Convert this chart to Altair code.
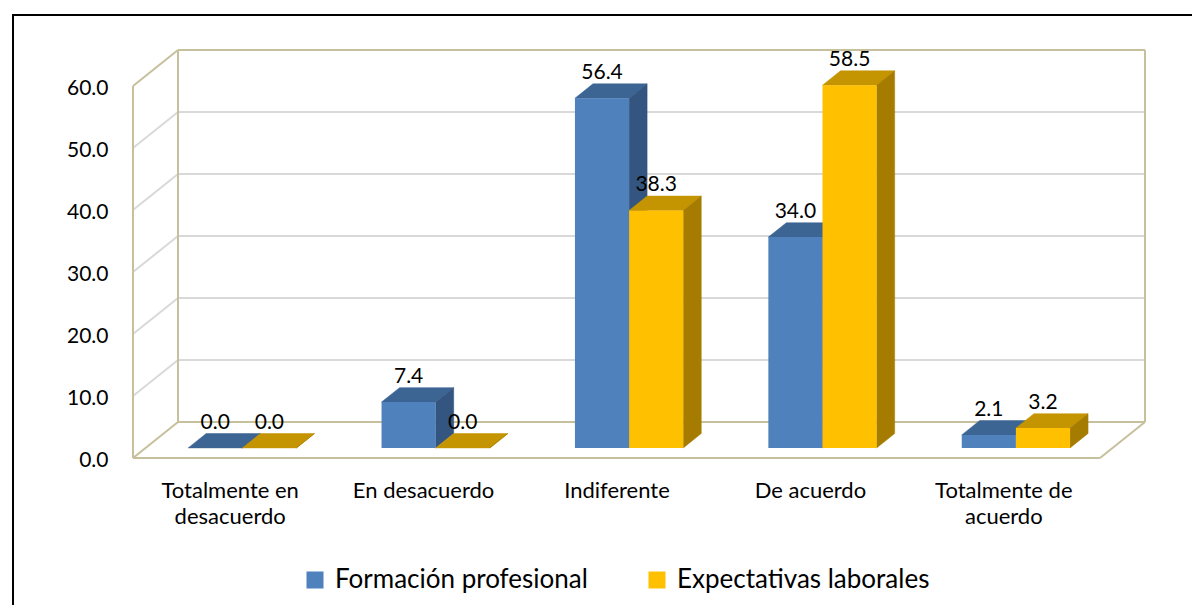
import json
import textwrap
import altair as alt
import pandas as pd

# ---------------- data ----------------
categories = ["Totalmente en desacuerdo", "En desacuerdo", "Indiferente",
              "De acuerdo", "Totalmente de acuerdo"]
series = ["Formación profesional", "Expectativas laborales"]
formacion = [0.0, 7.4, 56.4, 34.0, 2.1]
expectativas = [0.0, 0.0, 38.3, 58.5, 3.2]
y_ticks = [0, 10, 20, 30, 40, 50, 60]

front_colors = ["#4F81BD", "#FFC000"]
top_colors = ["#3D6594", "#C49500"]
side_colors = ["#33557F", "#A67C00"]
grid_color = "#D9D9D9"
wall_color = "#C7C09D"
FONT = "Lato"

# ---------------- geometry (pseudo 3-D) ----------------
PLOT_W, PLOT_H = 967, 372
N = len(categories)
YMAX = 60
DX = 45 / (PLOT_W / N)      # depth shift, in category units
DY = 36 / (PLOT_H / YMAX)   # depth shift, in value units
F = 0.28                    # depth of the bars' front face
T = 0.40                    # bar thickness in depth
BW = 0.28                   # bar width (category units)
fx, fy = F * DX, F * DY
tx, ty = T * DX, T * DY

values = [formacion, expectativas]
front_rows, top_rows, side_rows, label_rows = [], [], [], []
for k, (s, vals) in enumerate(zip(series, values)):
    for i, (cat, v) in enumerate(zip(categories, vals)):
        c = i + 0.5
        x0 = c - BW + k * BW
        x1 = x0 + BW
        bid = f"b{k}_{i}"
        front_rows.append(dict(serie=s, k=k, x=x0 + fx, x2=x1 + fx, y=fy, y2=v + fy))
        top_rows.append(dict(bar=bid, k=k, y=v + fy, x=x0 + fx, x2=x1 + fx))
        top_rows.append(dict(bar=bid, k=k, y=v + fy + ty, x=x0 + fx + tx, x2=x1 + fx + tx))
        side_rows.append(dict(bar=bid, k=k, x=x1 + fx, y=v + fy, y2=fy))
        side_rows.append(dict(bar=bid, k=k, x=x1 + fx + tx, y=v + fy + ty, y2=fy + ty))
        label_rows.append(dict(x=(x0 + x1) / 2 + fx, y=v + fy + ty, v=v))

front_df = pd.DataFrame(front_rows)
top_df = pd.DataFrame(top_rows)
side_df = pd.DataFrame(side_rows)
label_df = pd.DataFrame(label_rows)

# walls / floor / gridlines
grid_rows = []
for t in y_ticks[1:-1]:
    grid_rows.append(dict(x=DX, x2=N + DX, y=t + DY, y2=t + DY))
    grid_rows.append(dict(x=0, x2=DX, y=t, y2=t + DY))
wall_rows = [
    dict(x=DX, x2=N + DX, y=YMAX + DY, y2=YMAX + DY),
    dict(x=0, x2=DX, y=YMAX, y2=YMAX + DY),
    dict(x=DX, x2=N + DX, y=DY, y2=DY),
    dict(x=0, x2=DX, y=0, y2=DY),
    dict(x=0, x2=N, y=0, y2=0),
    dict(x=N, x2=N + DX, y=0, y2=DY),
    dict(x=0, x2=0, y=0, y2=YMAX),
    dict(x=DX, x2=DX, y=DY, y2=YMAX + DY),
    dict(x=N + DX, x2=N + DX, y=DY, y2=YMAX + DY),
]
grid_df = pd.DataFrame(grid_rows)
wall_df = pd.DataFrame(wall_rows)

wrapped = [textwrap.wrap(c, width=14) for c in categories]
label_expr = f"{json.dumps(wrapped, ensure_ascii=False)}[floor(datum.value)]"

xs = alt.Scale(domain=[0, N], nice=False, zero=False)
ys = alt.Scale(domain=[0, YMAX], nice=False, zero=False)

x_axis = alt.Axis(
    values=[i + 0.5 for i in range(N)], labelExpr=label_expr,
    domain=False, ticks=False, tickSize=0, grid=False, title=None,
    labelFont=FONT, labelFontSize=22, labelColor="#000",
    labelPadding=22, labelLineHeight=26, labelAngle=0,
    labelBaseline="top", labelLimit=300)
y_axis = alt.Axis(
    values=y_ticks, format=".1f", domain=False, ticks=False,
    tickSize=0, grid=False, title=None, labelFont=FONT,
    labelFontSize=21, labelColor="#000", labelPadding=25,
    labelOffset=2)


def X(f):
    return alt.X(f, scale=xs, axis=x_axis, stack=None)


def Y(f):
    return alt.Y(f, scale=ys, axis=y_axis, stack=None)


# ---------------- layers ----------------
border = alt.Chart(pd.DataFrame({"a": [0]})).mark_rect(
    fillOpacity=0, stroke="black", strokeWidth=2
).encode(x=alt.value(-120), x2=alt.value(1090), y=alt.value(-71), y2=alt.value(560))

grid = alt.Chart(grid_df).mark_rule(color=grid_color, strokeWidth=2).encode(
    x=X("x:Q"), x2="x2:Q", y=Y("y:Q"), y2="y2:Q")
walls = alt.Chart(wall_df).mark_rule(color=wall_color, strokeWidth=2).encode(
    x=X("x:Q"), x2="x2:Q", y=Y("y:Q"), y2="y2:Q")

color_enc = alt.Color(
    "serie:N",
    scale=alt.Scale(domain=series, range=front_colors),
    legend=alt.Legend(
        orient="none", legendX=169, legendY=481, direction="horizontal",
        title=None, symbolType="square", symbolSize=289, symbolStrokeWidth=0,
        symbolOpacity=1, labelFont=FONT, labelFontSize=26, labelColor="#000",
        labelOffset=7, columnPadding=56, padding=0, labelLimit=500,
    ),
)

bar_layers = []
for k in range(len(series)):
    top = alt.Chart(top_df).transform_filter(alt.datum.k == k).mark_area(
        orient="horizontal", color=top_colors[k], opacity=1,
        stroke=top_colors[k], strokeWidth=0.5
    ).encode(y=Y("y:Q"), x=X("x:Q"), x2="x2:Q", detail="bar:N")
    side = alt.Chart(side_df).transform_filter(alt.datum.k == k).mark_area(
        orient="vertical", color=side_colors[k], opacity=1,
        stroke=side_colors[k], strokeWidth=0.5
    ).encode(x=X("x:Q"), y=Y("y:Q"), y2="y2:Q", detail="bar:N")
    front = alt.Chart(front_df).transform_filter(alt.datum.k == k).mark_rect().encode(
        x=X("x:Q"), x2="x2:Q", y=Y("y:Q"), y2="y2:Q", color=color_enc)
    bar_layers += [top, side, front]

labels = alt.Chart(label_df).mark_text(
    font=FONT, fontSize=21, baseline="alphabetic", align="center", dy=-5, color="#000"
).encode(x=X("x:Q"), y=Y("y:Q"), text=alt.Text("v:Q", format=".1f"))

chart = alt.layer(border, grid, walls, *bar_layers, labels).properties(
    width=PLOT_W, height=PLOT_H,
    autosize=alt.AutoSizeParams(type="none"),
    padding={"left": 125, "top": 78, "right": 92, "bottom": 147},
    background="white",
).configure_view(stroke=None)

chart.save("out.html", embed_options={"renderer": "svg", "actions": False})
